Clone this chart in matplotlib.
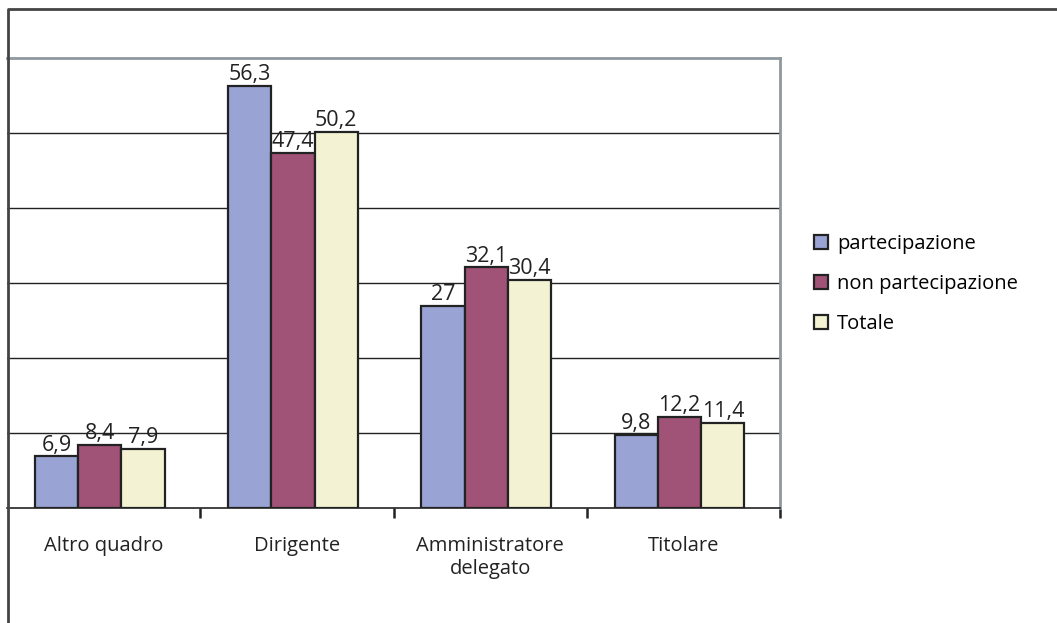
import numpy as np
import matplotlib.pyplot as plt
from matplotlib.lines import Line2D

plt.rcParams['font.family'] = ['Open Sans', 'DejaVu Sans']

categorie = ['Altro quadro', 'Dirigente', 'Amministratore\ndelegato', 'Titolare']
serie = ['partecipazione', 'non partecipazione', 'Totale']
partecipazione = [6.9, 56.3, 27, 9.8]
non_partecipazione = [8.4, 47.4, 32.1, 12.2]
totale = [7.9, 50.2, 30.4, 11.4]
colori = ['#99a4d4', '#a05277', '#f3f3d4']

W, H = 1057, 623
fig = plt.figure(figsize=(W / 100, H / 100), dpi=100)
ax = fig.add_axes([7 / W, (H - 508) / H, (780 - 7) / W, (508 - 58) / H])

x = np.arange(len(categorie))
larg = 0.224
valori = [partecipazione, non_partecipazione, totale]
for i, (nome, vals, col) in enumerate(zip(serie, valori, colori)):
    pos = x + (i - 1) * larg - 0.02
    barre = ax.bar(pos, vals, width=larg, color=col, edgecolor='#222222',
                   linewidth=1.6, label=nome, zorder=3)
    for b, v in zip(barre, vals):
        testo = f'{v:g}'.replace('.', ',')
        ax.annotate(testo, (b.get_x() + b.get_width() / 2, v),
                    xytext=(0, 0.5), textcoords='offset points',
                    ha='center', va='bottom', fontsize=15.5, color='#222222')

ax.set_xlim(-0.5, len(categorie) - 0.5)
ax.set_ylim(0, 60)
ax.set_yticks([])
for g in range(10, 60, 10):
    ax.axhline(g, color='#222222', linewidth=1.0, zorder=1)

# separatori tra le categorie sull'asse x
ax.set_xticks(np.arange(1, len(categorie) + 1) - 0.5)
ax.set_xticklabels([])
ax.tick_params(axis='x', direction='out', length=7, width=1.8, color='#222222')
ax.set_xticks(x, minor=True)
ax.set_xticklabels(categorie, minor=True, fontsize=14.5, color='#222222',
                   linespacing=1.2)
ax.tick_params(axis='x', which='minor', length=0, pad=20)

for lato in ['top', 'right']:
    ax.spines[lato].set_color('#8f989f')
    ax.spines[lato].set_linewidth(2)
ax.spines['left'].set_visible(False)
ax.spines['bottom'].set_color('#222222')
ax.spines['bottom'].set_linewidth(1.2)

ax.legend(loc='center left', bbox_to_anchor=(806 / W, (H - 284) / H),
          bbox_transform=fig.transFigure, frameon=False, fontsize=14.5,
          handlelength=0.7, handleheight=0.7, handletextpad=0.45,
          labelspacing=1.0, borderaxespad=0)

# cornice esterna
fig.add_artist(Line2D([7.5 / W, 7.5 / W, 1.0], [0, 1 - 9 / H, 1 - 9 / H],
                      transform=fig.transFigure, color='#444444', linewidth=2))

fig.savefig('out.png', dpi=100)
